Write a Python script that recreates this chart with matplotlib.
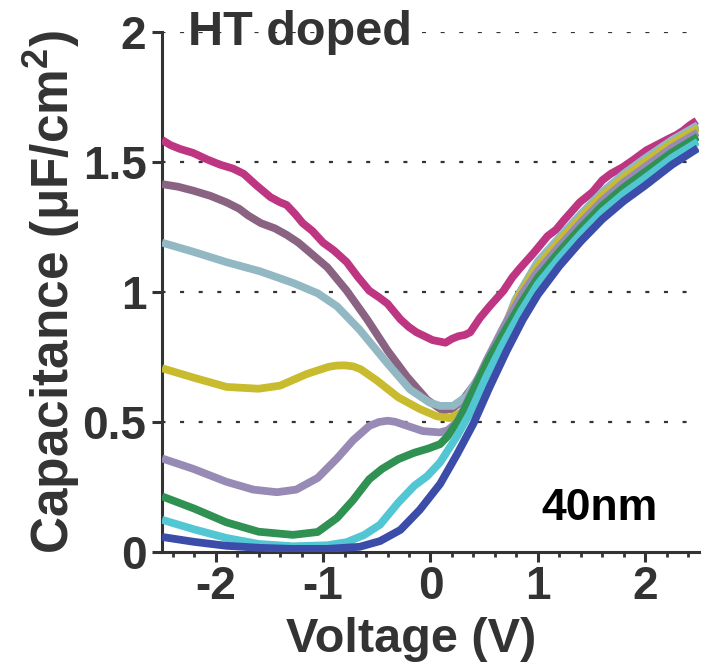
import matplotlib
matplotlib.use("Agg")
import matplotlib.pyplot as plt
from matplotlib.ticker import MultipleLocator, FixedLocator, FixedFormatter

plt.rcParams['font.family'] = ['Liberation Sans', 'DejaVu Sans']
plt.rcParams['font.weight'] = 'bold'
plt.rcParams['axes.unicode_minus'] = False
plt.rcParams['lines.scale_dashes'] = False
plt.rcParams['mathtext.fontset'] = 'custom'
plt.rcParams['mathtext.rm'] = 'Liberation Sans'
plt.rcParams['mathtext.it'] = 'Liberation Sans:italic'
plt.rcParams['mathtext.bf'] = 'Liberation Sans:bold'

# C-V sweeps, 40 nm HT doped film (V, uF/cm^2)
v_magenta = [-2.50, -2.42, -2.33, -2.21, -2.08, -1.96, -1.84, -1.74, -1.62, -1.49, -1.40, -1.34,
             -1.26, -1.19, -1.10, -1.00, -0.90, -0.78, -0.68, -0.57, -0.48, -0.40, -0.28, -0.20,
             -0.13, 0.02, 0.14, 0.20, 0.26, 0.32, 0.37, 0.46, 0.55, 0.68, 0.76, 0.83, 0.96, 1.09,
             1.17, 1.24, 1.39, 1.51, 1.60, 1.68, 1.79, 1.888, 2.01, 2.137, 2.22, 2.29, 2.35, 2.416, 2.479]
c_magenta = [1.585, 1.565, 1.55, 1.535, 1.51, 1.49, 1.475, 1.455, 1.41, 1.365, 1.345, 1.335,
             1.30, 1.265, 1.235, 1.19, 1.16, 1.115, 1.06, 1.005, 0.98, 0.955, 0.895, 0.865,
             0.845, 0.815, 0.805, 0.82, 0.83, 0.835, 0.845, 0.90, 0.945, 1.005, 1.055, 1.09, 1.15, 1.215,
             1.24, 1.275, 1.345, 1.385, 1.43, 1.455, 1.48, 1.508, 1.545, 1.572, 1.59, 1.604, 1.62, 1.642, 1.659]

v_mauve = [-2.5, -2.35, -2.21, -2.05, -1.90, -1.78, -1.70, -1.58, -1.45, -1.34, -1.23, -1.13, -0.96,
           -0.78, -0.59, -0.40, -0.22, -0.03, 0.11, 0.20, 0.30, 0.46, 0.62, 0.79, 1.0, 1.2, 1.4, 1.6,
           1.8, 2.0, 2.25, 2.49]
c_mauve = [1.415, 1.405, 1.39, 1.37, 1.345, 1.32, 1.295, 1.265, 1.245, 1.22, 1.19, 1.155, 1.095,
           1.005, 0.895, 0.775, 0.675, 0.585, 0.545, 0.55, 0.585, 0.672, 0.782, 0.964, 1.112, 1.204,
           1.294, 1.379, 1.449, 1.509, 1.579, 1.636]

v_steel = [-2.5, -2.21, -1.90, -1.59, -1.28, -1.05, -0.87, -0.66, -0.40, -0.19, -0.01, 0.09, 0.21,
           0.34, 0.46, 0.62, 0.79, 1.0, 1.2, 1.4, 1.6, 1.8, 2.0, 2.25, 2.49]
c_steel = [1.19, 1.155, 1.115, 1.08, 1.035, 0.995, 0.945, 0.855, 0.725, 0.625, 0.575, 0.562, 0.562,
           0.60, 0.68, 0.79, 0.97, 1.118, 1.21, 1.30, 1.385, 1.455, 1.515, 1.585, 1.642]

v_olive = [-2.5, -2.2, -1.9, -1.6, -1.4, -1.15, -0.95, -0.88, -0.8, -0.72, -0.65, -0.5, -0.3, -0.1,
           0.06, 0.18, 0.3, 0.46, 0.64, 0.82, 1.0, 1.2, 1.4, 1.6, 1.8, 2.0, 2.25, 2.49]
c_olive = [0.707, 0.67, 0.635, 0.628, 0.64, 0.685, 0.712, 0.717, 0.718, 0.714, 0.703, 0.66, 0.595,
           0.55, 0.522, 0.515, 0.54, 0.66, 0.82, 0.985, 1.10, 1.196, 1.286, 1.371, 1.441, 1.501,
           1.573, 1.63]

v_lilac = [-2.5, -2.21, -1.90, -1.65, -1.43, -1.25, -1.05, -0.87, -0.72, -0.57, -0.48, -0.40, -0.33,
           -0.25, -0.07, 0.09, 0.16, 0.25, 0.32, 0.40, 0.52, 0.68, 0.85, 1.0, 1.2, 1.4, 1.6, 1.8,
           2.0, 2.25, 2.49]
c_lilac = [0.36, 0.32, 0.27, 0.24, 0.23, 0.24, 0.285, 0.36, 0.43, 0.485, 0.500, 0.505, 0.501,
           0.49, 0.465, 0.46, 0.468, 0.50, 0.56, 0.63, 0.735, 0.865, 0.99, 1.08, 1.176, 1.267,
           1.352, 1.422, 1.482, 1.556, 1.614]

v_green = [-2.5, -2.2, -1.9, -1.6, -1.28, -1.05, -0.87, -0.72, -0.64, -0.57, -0.45, -0.3, -0.15,
           -0.02, 0.09, 0.16, 0.275, 0.40, 0.55, 0.71, 0.85, 1.0, 1.2, 1.4, 1.6, 1.8, 2.0, 2.25, 2.49]
c_green = [0.214, 0.167, 0.114, 0.078, 0.066, 0.077, 0.131, 0.20, 0.243, 0.28, 0.32, 0.357, 0.382,
           0.398, 0.415, 0.445, 0.515, 0.622, 0.747, 0.862, 0.96, 1.055, 1.155, 1.247, 1.332, 1.402,
           1.462, 1.537, 1.597]

v_cyan = [-2.5, -2.2, -1.9, -1.6, -1.28, -0.96, -0.78, -0.62, -0.47, -0.3, -0.15, -0.03, 0.09,
          0.245, 0.367, 0.52, 0.68, 0.834, 1.0, 1.2, 1.4, 1.6, 1.8, 2.0, 2.25, 2.49]
c_cyan = [0.124, 0.087, 0.054, 0.031, 0.022, 0.026, 0.038, 0.065, 0.105, 0.19, 0.255, 0.292, 0.345,
          0.444, 0.534, 0.674, 0.804, 0.919, 1.03, 1.131, 1.224, 1.309, 1.379, 1.439, 1.517, 1.578]

v_blue = [-2.5, -2.2, -1.9, -1.59, -1.3, -0.96, -0.66, -0.47, -0.28, -0.10, 0.09, 0.245, 0.40,
          0.55, 0.71, 0.86, 1.0, 1.2, 1.4, 1.6, 1.8, 2.0, 2.25, 2.49]
c_blue = [0.058, 0.039, 0.024, 0.016, 0.012, 0.012, 0.02, 0.042, 0.085, 0.162, 0.262, 0.374, 0.494,
          0.634, 0.774, 0.894, 0.99, 1.10, 1.195, 1.28, 1.35, 1.41, 1.49, 1.553]

curves = [
    (v_magenta, c_magenta, '#be3582'),
    (v_mauve, c_mauve, '#8a6282'),
    (v_steel, c_steel, '#92b8c4'),
    (v_olive, c_olive, '#c8bb2e'),
    (v_lilac, c_lilac, '#978bb5'),
    (v_green, c_green, '#2f9152'),
    (v_cyan, c_cyan, '#52c6d3'),
    (v_blue, c_blue, '#3b4ca9'),
]

y_ticks = [0, 0.5, 1, 1.5, 2]
y_labels = ['0', '0.5', '1', '1.5', '2']
x_ticks = [-2, -1, 0, 1, 2]
x_labels = ['-2', '-1', '0', '1', '2']

dark = '#333333'

fig = plt.figure(figsize=(7.12, 6.63), dpi=100)
ax = fig.add_axes([0.2275, 0.1674, 0.7542, 0.7843])

for v, c, col in curves:
    ax.plot(v, c, color=col, lw=5.6, solid_joinstyle='round', solid_capstyle='butt', zorder=3)

ax.set_xlim(-2.5, 2.5)
ax.set_ylim(0, 2)

ax.yaxis.set_major_locator(FixedLocator(y_ticks))
ax.yaxis.set_major_formatter(FixedFormatter(y_labels))
ax.xaxis.set_major_locator(FixedLocator(x_ticks))
ax.xaxis.set_major_formatter(FixedFormatter(x_labels))
ax.xaxis.set_minor_locator(MultipleLocator(0.2))

# sparse dotted grid, dash lengths in points
for yv in y_ticks[1:]:
    ax.axhline(yv, color=dark, lw=1.6, linestyle=(0.4, (2.9, 10.5)), zorder=1)

for s in ['top', 'right']:
    ax.spines[s].set_visible(False)
for s in ['left', 'bottom']:
    ax.spines[s].set_color(dark)
    ax.spines[s].set_linewidth(2.2)

ax.tick_params(axis='both', which='major', direction='out', length=7.2, width=2.2,
               color=dark, labelcolor=dark, labelsize=33)
ax.tick_params(axis='x', which='minor', direction='out', length=3.6, width=2.0, color=dark)
ax.tick_params(axis='y', which='major', pad=4)
ax.tick_params(axis='x', which='major', pad=2)

fig.text(0.577, 0.0166, 'Voltage (V)', ha='center', va='baseline', fontsize=35,
         color=dark, fontweight='bold')
fig.text(0.073, 0.56, 'Capacitance ($\\mathrm{\\mu}$F/cm$^{\\mathrm{2}}$)', rotation=90,
         ha='center', va='center', fontsize=37, color=dark, fontweight='bold')
fig.text(0.264, 0.932, 'HT doped', ha='left', va='baseline', fontsize=35,
         color=dark, fontweight='bold')
fig.text(0.761, 0.2157, '40nm', ha='left', va='baseline', fontsize=32,
         color='black', fontweight='bold')

fig.savefig('out.png', dpi=100, facecolor='white')
